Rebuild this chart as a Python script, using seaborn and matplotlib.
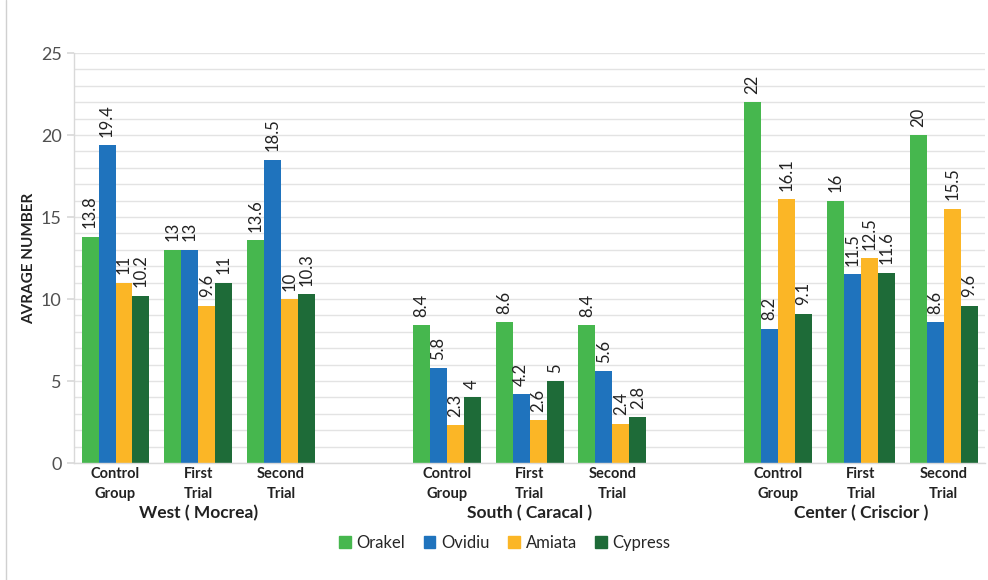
import numpy as np
import pandas as pd
import matplotlib
matplotlib.use("Agg")
import matplotlib.pyplot as plt
import matplotlib.transforms as mtransforms
from matplotlib.lines import Line2D
from matplotlib.ticker import MultipleLocator
import seaborn as sns

# data
regions = ["West ( Mocrea)", "South ( Caracal )", "Center ( Criscior )"]
groups = ["Control\nGroup", "First\nTrial", "Second\nTrial"]
varieties = ["Orakel", "Ovidiu", "Amiata", "Cypress"]
orakel = [13.8, 13, 13.6, 8.4, 8.6, 8.4, 22, 16, 20]
ovidiu = [19.4, 13, 18.5, 5.8, 4.2, 5.6, 8.2, 11.5, 8.6]
amiata = [11, 9.6, 10, 2.3, 2.6, 2.4, 16.1, 12.5, 15.5]
cypress = [10.2, 11, 10.3, 4, 5, 2.8, 9.1, 11.6, 9.6]
palette = ["#46b74e", "#1f73bd", "#fbb626", "#1e6b38"]

# slot positions: one empty slot between regions
slots = [r * 4 + g for r in range(len(regions)) for g in range(len(groups))]
rows = []
for name, vals in zip(varieties, [orakel, ovidiu, amiata, cypress]):
    for pos, v in zip(slots, vals):
        rows.append({"pos": pos, "variety": name, "value": v})
df = pd.DataFrame(rows)

sns.set_theme(style="white")
plt.rcParams["font.family"] = ["Lato", "DejaVu Sans"]

fig = plt.figure(figsize=(9.88, 5.80), dpi=100)
ax = fig.add_axes([0.075, 0.2017, 0.922, 0.7069])

sns.barplot(
    data=df, x="pos", y="value", hue="variety", hue_order=varieties,
    palette=palette, native_scale=True, width=0.82, saturation=1,
    linewidth=0, errorbar=None, ax=ax,
)

for cont in ax.containers:
    ax.bar_label(cont, fmt=lambda v: f"{v:g}", rotation=90, padding=6,
                 fontsize=12, color="#222222")

ax.set_xlim(-0.5, 10.5)
ax.set_ylim(0, 25)
ax.yaxis.set_major_locator(MultipleLocator(5))
ax.yaxis.set_minor_locator(MultipleLocator(1))
ax.grid(True, which="both", axis="y", color="#e3e3e3", linewidth=1)
ax.set_axisbelow(True)
for side in ["top", "right"]:
    ax.spines[side].set_visible(False)
for side in ["left", "bottom"]:
    ax.spines[side].set_color("#d9d9d9")
    ax.spines[side].set_linewidth(1)

ax.tick_params(axis="y", which="major", length=5, color="#d9d9d9",
               labelsize=13, labelcolor="#505050", pad=4, left=True)
ax.tick_params(axis="y", which="minor", length=0)
ax.set_xticks(slots)
ax.set_xticklabels(groups * len(regions), fontsize=10.5, fontweight="bold",
                   color="#222222", linespacing=1.55)
ax.tick_params(axis="x", length=0, pad=3)

ax.set_xlabel("")
ax.set_ylabel("AVRAGE NUMBER", fontsize=11, fontweight="bold", color="#222222",
              labelpad=3)

trans = mtransforms.blended_transform_factory(ax.transData, ax.transAxes)
for r, name in enumerate(regions):
    ax.text(r * 4 + 1, -0.122, name, transform=trans, ha="center", va="center",
            fontsize=12.5, fontweight="bold", color="#222222")

ax.legend_.remove()
handles = [plt.Rectangle((0, 0), 1, 1, color=c) for c in palette]
fig.legend(handles, varieties, loc="center", bbox_to_anchor=(0.511, 0.064),
           ncol=4, frameon=False, fontsize=12, handlelength=0.7,
           handleheight=0.7, handletextpad=0.35, columnspacing=1.1)

# chart area border on the left
fig.add_artist(Line2D([0.006, 0.006], [0.0, 1.0], color="#d0d0d0",
                      linewidth=1, transform=fig.transFigure))

fig.savefig("out.png", dpi=100)
